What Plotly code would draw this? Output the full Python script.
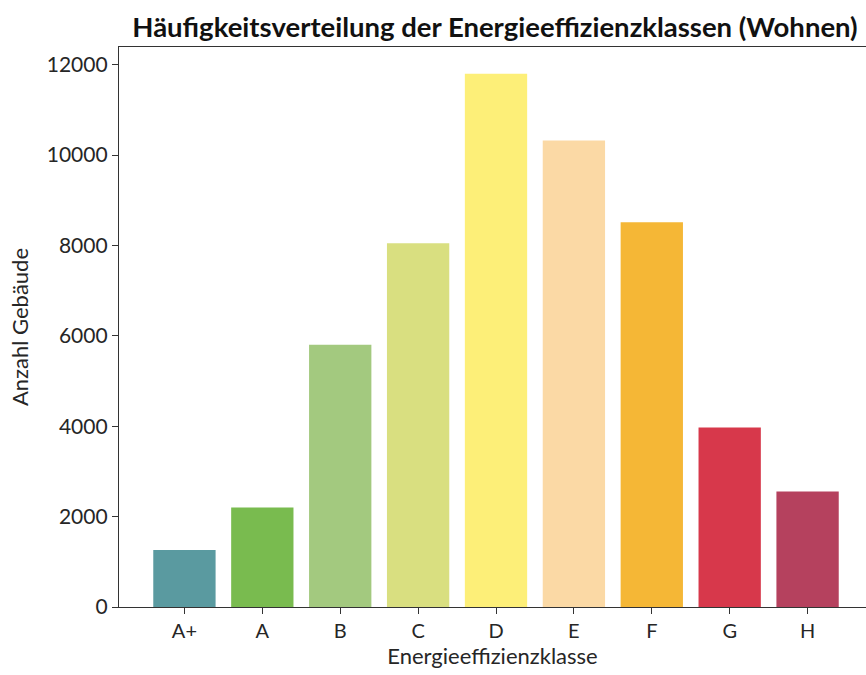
import plotly.graph_objects as go

categories = ["A+", "A", "B", "C", "D", "E", "F", "G", "H"]
counts = [1260, 2200, 5800, 8050, 11800, 10320, 8515, 3970, 2555]
colors = ["#5a9aa0", "#79bb4f", "#a3c97f", "#d9df80", "#fdef78",
          "#fbd9a5", "#f5b736", "#d7384b", "#b5415e"]
y_ticks = [0, 2000, 4000, 6000, 8000, 10000, 12000]

FONT = "Lato"

fig = go.Figure(go.Bar(
    x=list(range(len(categories))), y=counts,
    marker=dict(color=colors, line=dict(width=0)),
    width=0.8,
))

fig.update_layout(
    width=866, height=675,
    paper_bgcolor="white", plot_bgcolor="white",
    margin=dict(l=119, r=0, t=47, b=68),
    showlegend=False,
    font=dict(family=FONT, color="#262626"),
    title=dict(text="<b>Häufigkeitsverteilung der Energieeffizienzklassen (Wohnen)</b>",
               x=(130 + 860) / 2 / 866, xref="container", xanchor="center",
               y=1 - 27 / 675, yanchor="middle", yref="container",
               font=dict(size=27.5, family=FONT, color="#111111")),
)

fig.update_xaxes(
    range=[-0.84, 8.75],
    tickmode="array", tickvals=list(range(len(categories))), ticktext=categories,
    ticks="outside", ticklen=6, tickcolor="#333333", tickwidth=1.2,
    showline=True, linecolor="#333333", linewidth=1.3, mirror=True,
    showgrid=False, zeroline=False,
    tickfont=dict(size=20),
    title=dict(text="Energieeffizienzklasse", font=dict(size=22), standoff=6),
    automargin=False,
)

fig.update_yaxes(
    range=[0, 12390],
    tickmode="array", tickvals=y_ticks, ticktext=[str(v) for v in y_ticks],
    ticks="outside", ticklen=6, tickcolor="#333333", tickwidth=1.2,
    showline=True, linecolor="#333333", linewidth=1.3, mirror=False,
    showgrid=False, zeroline=False,
    tickfont=dict(size=21),
    title=dict(text="Anzahl Gebäude", font=dict(size=22), standoff=12),
    automargin=False,
)

fig.write_html("out.html", config={"displayModeBar": False},
               post_script="document.body.style.margin='0';document.body.style.overflow='hidden';")
